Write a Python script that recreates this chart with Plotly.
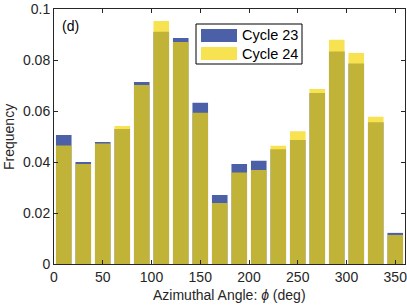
import plotly.graph_objects as go

# Bin centers (deg) and normalized frequencies
angles = [10, 30, 50, 70, 90, 110, 130, 150, 170, 190, 210, 230, 250, 270, 290, 310, 330, 350]
cycle23 = [0.0506, 0.0400, 0.0478, 0.0529, 0.0714, 0.0911, 0.0886, 0.0632, 0.0271,
           0.0392, 0.0405, 0.0450, 0.0486, 0.0671, 0.0833, 0.0786, 0.0556, 0.0122]
cycle24 = [0.0465, 0.0392, 0.0473, 0.0541, 0.0702, 0.0953, 0.0871, 0.0593, 0.0239,
           0.0359, 0.0369, 0.0464, 0.0521, 0.0686, 0.0879, 0.0827, 0.0577, 0.0114]
x_ticks = [0, 50, 100, 150, 200, 250, 300, 350]
y_ticks = [0, 0.02, 0.04, 0.06, 0.08, 0.1]

BLUE = "rgba(0,29,131,0.7)"
YELLOW = "rgba(244,214,8,0.7)"
AX = "rgb(38,38,38)"
FONT = "Liberation Sans, Arial, sans-serif"

W, H = 407, 305
ML, MR, MT, MB = 54, 2, 9, 41
PW, PH = W - ML - MR, H - MT - MB


def px(x):
    return (x - ML) / PW


def py(y):
    return (H - MB - y) / PH


fig = go.Figure()
fig.add_trace(go.Bar(x=angles, y=cycle23, name="Cycle 23", width=16,
                     marker=dict(color=BLUE, line=dict(width=0)), showlegend=False))
fig.add_trace(go.Bar(x=angles, y=cycle24, name="Cycle 24", width=16,
                     marker=dict(color=YELLOW, line=dict(width=0)), showlegend=False))

shapes = [
    dict(type="rect", xref="paper", yref="paper", x0=px(196), x1=px(302), y0=py(64), y1=py(24),
         line=dict(color="black", width=1), fillcolor="white", layer="above"),
    dict(type="rect", xref="paper", yref="paper", x0=px(201), x1=px(237), y0=py(42), y1=py(29),
         line=dict(width=0), fillcolor=BLUE, layer="above"),
    dict(type="rect", xref="paper", yref="paper", x0=px(201), x1=px(237), y0=py(60), y1=py(47),
         line=dict(width=0), fillcolor=YELLOW, layer="above"),
]
annotations = [
    dict(text="Cycle 23", xref="paper", yref="paper", x=px(240), y=py(35.5), xanchor="left",
         yanchor="middle", showarrow=False, font=dict(family=FONT, size=14.5, color="black")),
    dict(text="Cycle 24", xref="paper", yref="paper", x=px(240), y=py(53.5), xanchor="left",
         yanchor="middle", showarrow=False, font=dict(family=FONT, size=14.5, color="black")),
    dict(text="(d)", xref="paper", yref="paper", x=px(60), y=py(26), xanchor="left",
         yanchor="middle", showarrow=False, font=dict(family=FONT, size=14, color="black")),
    dict(text="Azimuthal Angle: <i>ϕ</i> (deg)", xref="paper", yref="paper", x=px(229.5),
         y=py(295), xanchor="center", yanchor="middle", showarrow=False,
         font=dict(family=FONT, size=14, color=AX)),
    dict(text="Frequency", xref="paper", yref="paper", x=px(9), y=py(137), textangle=-90,
         xanchor="center", yanchor="middle", showarrow=False,
         font=dict(family=FONT, size=14, color=AX)),
]

fig.update_layout(
    width=W, height=H,
    margin=dict(l=ML, r=MR, t=MT, b=MB, autoexpand=False),
    barmode="overlay",
    plot_bgcolor="white", paper_bgcolor="white",
    font=dict(family=FONT, size=14, color=AX),
    shapes=shapes, annotations=annotations,
    showlegend=False,
    xaxis=dict(range=[0, 360], tickvals=x_ticks, ticks="inside", ticklen=4, tickcolor=AX,
               showline=True, linecolor=AX, linewidth=1, mirror="ticks", showgrid=False,
               zeroline=False, automargin=False, ticklabeloverflow="allow",
               tickfont=dict(size=14, color=AX)),
    yaxis=dict(range=[0, 0.1], tickvals=y_ticks, ticks="inside", ticklen=4, tickcolor=AX,
               showline=True, linecolor=AX, linewidth=1, mirror="ticks", showgrid=False,
               zeroline=False, automargin=False, ticklabeloverflow="allow",
               tickfont=dict(size=14, color=AX)),
)

fig.write_html(
    "out.html",
    config={"displayModeBar": False},
    post_script="document.body.style.margin='0';document.body.style.overflow='hidden';",
)
